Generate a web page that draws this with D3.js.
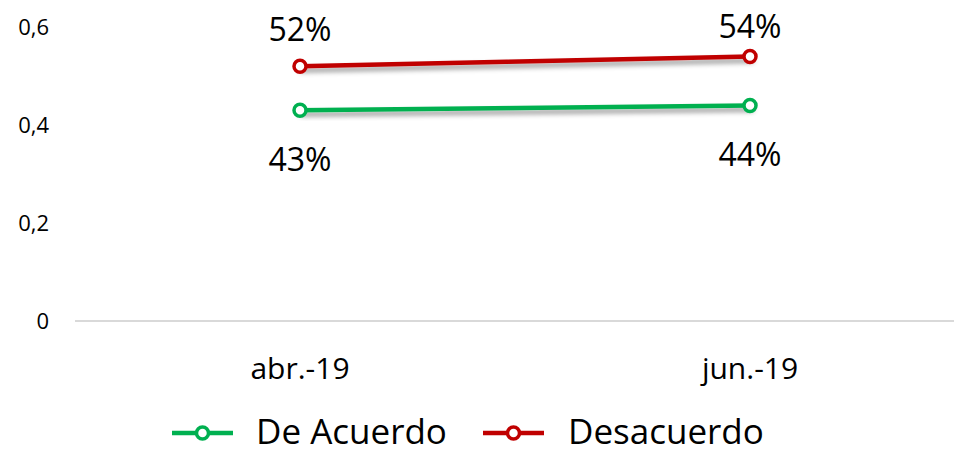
<!DOCTYPE html>
<html>
<head>
<meta charset="utf-8">
<script src="https://cdn.jsdelivr.net/npm/d3@7"></script>
<style>
  html, body { margin: 0; padding: 0; background: #fff; }
  svg { display: block; font-family: "Open Sans", "Noto Sans", sans-serif; }
</style>
</head>
<body>
<svg id="chart" width="954" height="453"></svg>
<script>
// Survey periods and share of answers per series
const periods = ["abr.-19", "jun.-19"];
const deAcuerdo = [0.43, 0.44];
const desacuerdo = [0.52, 0.54];
const yTicks = [0, 0.2, 0.4, 0.6];

const series = [
  { name: "De Acuerdo", values: deAcuerdo, color: "#00b050", labelPos: "below" },
  { name: "Desacuerdo", values: desacuerdo, color: "#c00000", labelPos: "above" }
];

const svg = d3.select("#chart");
const width = 954;

const plot = { left: 75, right: 975, top: 27, bottom: 321 };

const x = d3.scaleBand().domain(periods).range([plot.left, plot.right]).paddingInner(0).paddingOuter(0);
const y = d3.scaleLinear().domain([0, 0.6]).range([plot.bottom, plot.top]);
const cx = d => x(d) + x.bandwidth() / 2;

// soft shadow under the series lines
const defs = svg.append("defs");
const f = defs.append("filter").attr("id", "shadow")
  .attr("x", "-10%").attr("y", "-200%").attr("width", "120%").attr("height", "500%");
f.append("feDropShadow").attr("dx", 2).attr("dy", 4).attr("stdDeviation", 2.8)
  .attr("flood-color", "#000").attr("flood-opacity", 0.4);

// y axis labels
const yAxis = svg.append("g").attr("transform", `translate(${plot.left - 26},0)`)
  .call(d3.axisLeft(y).tickValues(yTicks).tickSize(0).tickPadding(0)
    .tickFormat(d => d3.format(".1f")(d).replace(".", ",").replace(/^0,0$/, "0")));
yAxis.select(".domain").remove();
yAxis.selectAll("text").attr("font-size", 22).attr("fill", "#000")
  .attr("font-family", "'Open Sans', sans-serif");

// baseline
svg.append("line")
  .attr("x1", plot.left).attr("x2", width)
  .attr("y1", y(0)).attr("y2", y(0))
  .attr("stroke", "#d9d9d9").attr("stroke-width", 2);

// category labels
const xAxis = svg.append("g").attr("transform", `translate(0,${y(0)})`)
  .call(d3.axisBottom(x).tickSize(0).tickPadding(37));
xAxis.select(".domain").remove();
xAxis.selectAll("text").attr("font-size", 30).attr("fill", "#000")
  .attr("font-family", "'Open Sans', sans-serif");

const line = d3.line().x((d, i) => cx(periods[i])).y(d => y(d));

series.forEach(s => {
  const g = svg.append("g");
  g.append("path").datum(s.values)
    .attr("d", line).attr("fill", "none")
    .attr("stroke", s.color).attr("stroke-width", 4.5)
    .attr("stroke-linecap", "round")
    .attr("filter", "url(#shadow)");
  g.selectAll("circle").data(s.values).join("circle")
    .attr("cx", (d, i) => cx(periods[i])).attr("cy", d => y(d))
    .attr("r", 6).attr("fill", "#fff")
    .attr("stroke", s.color).attr("stroke-width", 3.5);
  g.selectAll("text").data(s.values).join("text")
    .attr("x", (d, i) => cx(periods[i]))
    .attr("y", d => s.labelPos === "above" ? Math.max(y(d) - 36, y(0.6)) : y(d) + 49)
    .attr("dy", "0.35em")
    .attr("text-anchor", "middle")
    .attr("font-size", 32).attr("fill", "#000")
    .text(d => d3.format(".0%")(d));
});

// legend
const legendItems = [
  { s: series[0], lx: 172, tx: 256 },
  { s: series[1], lx: 483, tx: 568 }
];
const ly = 433;
legendItems.forEach(({ s, lx, tx }) => {
  const g = svg.append("g");
  g.append("line").attr("x1", lx).attr("x2", lx + 61).attr("y1", ly).attr("y2", ly)
    .attr("stroke", s.color).attr("stroke-width", 4.5);
  g.append("circle").attr("cx", lx + 30.5).attr("cy", ly).attr("r", 6)
    .attr("fill", "#fff").attr("stroke", s.color).attr("stroke-width", 3.5);
  g.append("text").attr("x", tx).attr("y", 444)
    .attr("font-size", 35).attr("fill", "#000").text(s.name);
});
</script>
</body>
</html>
